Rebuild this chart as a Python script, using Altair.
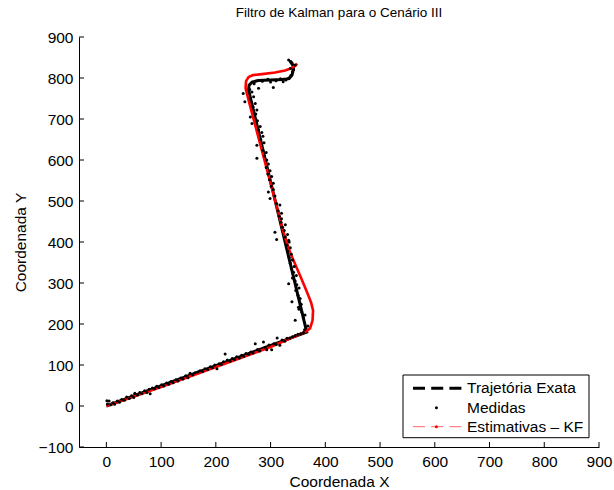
import altair as alt
import pandas as pd

# ---------------- data ----------------
traj_x = [0, 366.1, 259.8, 260.7, 266.2, 277.1, 299.1, 321.0, 333.8, 339.2, 342.0, 339.2, 335.6]
traj_y = [0, 180.2, 770.5, 782.7, 790.0, 793.7, 794.9, 796.1, 798.5, 807.1, 824.2, 836.4, 841.3]

est_x = [0, 100, 200, 300, 364.8, 372.1, 376.7, 377.6, 374.0, 366.6, 357.5, 346.5, 335.6, 328.3, 322.8,
         259.8, 254.3, 255.2, 259.8, 268.0, 284.4, 308.2, 326.5, 339.2, 346.5, 348.4]
est_y = [0, 46, 95, 144, 181.9, 189.3, 208.8, 233.2, 252.7, 277.2, 306.5, 340.7, 374.8, 404.2, 428.6,
         746.0, 775.3, 792.4, 802.2, 807.1, 809.5, 813.2, 818.1, 824.2, 831.5, 835.2]

meas_x = [1, 2, 5, 8, 12, 15, 20, 24, 28, 33, 37, 42, 46, 50, 52, 57, 61, 65, 70, 74, 78, 80,
          84, 88, 92, 96, 101, 105, 110, 114, 118, 122, 127, 131, 136, 140, 145, 149, 153, 158,
          162, 167, 171, 176, 180, 185, 190, 194, 198, 202, 206, 210, 214, 217, 221, 226, 230,
          234, 238, 243, 247, 251, 255, 260, 264, 268, 272, 276, 280, 287, 290, 293, 297, 302,
          306, 310, 312, 317, 321, 326, 330, 335, 340, 345, 350, 355, 360,
          362, 368, 357, 345, 351, 360, 363, 352, 356, 339, 354, 350, 346, 352, 348, 333, 345,
          340, 347, 342, 338, 343, 336, 340, 334, 338, 331, 336, 330, 334, 333, 311, 327, 331,
          308, 325, 322, 327, 319, 320, 316, 320, 314, 317, 311, 299, 308, 296, 305, 301, 305,
          298, 302, 295, 299, 292, 296, 293, 275, 289, 292, 286, 275, 288, 282, 286, 284, 278,
          281, 266, 276, 263, 273, 275, 268, 272, 253, 269, 263, 250, 266, 262,
          278, 305, 270, 285, 295, 300, 310, 318, 323, 328, 333, 337, 340, 342, 336, 345, 338,
          333, 336]
meas_y = [13, 5, 12, 3, 8, 4, 12, 9, 16, 14, 22, 18, 25, 21, 31, 27, 33, 30, 37, 33, 41, 30,
          44, 42, 48, 45, 52, 49, 56, 53, 60, 57, 64, 61, 68, 66, 74, 69, 80, 76,
          81, 83, 86, 84, 91, 89, 96, 93, 100, 91, 103, 101, 108, 127, 112, 109, 116,
          113, 120, 117, 124, 121, 128, 126, 132, 129, 152, 138, 134, 156, 143, 137, 149, 137,
          152, 150, 166, 148, 161, 158, 165, 166, 169, 172, 175, 176, 179,
          186, 195, 229, 209, 241, 215, 222, 236, 248, 254, 262, 270, 282, 288, 296, 298, 305,
          312, 318, 326, 335, 340, 348, 356, 362, 370, 378, 386, 392, 400, 404, 406, 412, 418,
          424, 428, 436, 442, 448, 457, 463, 470, 476, 490, 494, 506, 512, 522, 528, 536, 543,
          552, 560, 566, 574, 582, 590, 600, 604, 610, 618, 624, 636, 642, 650, 658, 667, 674,
          682, 689, 696, 705, 712, 722, 730, 738, 742, 754, 750, 762, 766, 772,
          775, 777, 786, 792, 797, 790, 793, 798, 791, 795, 800, 806, 815, 820, 823, 832, 836,
          844, 840]

x_ticks = [0, 100, 200, 300, 400, 500, 600, 700, 800, 900]
y_ticks = [-100, 0, 100, 200, 300, 400, 500, 600, 700, 800, 900]

legend_labels = ["Trajetória Exata", "Medidas", "Estimativas – KF"]

W, H = 520, 410
FONT = "Liberation Sans"
FS = 15.5

traj_df = pd.DataFrame({"x": traj_x, "y": traj_y, "o": list(range(len(traj_x)))})
est_df = pd.DataFrame({"x": est_x, "y": est_y, "o": list(range(len(est_x)))})
meas_df = pd.DataFrame({"x": meas_x, "y": meas_y})
xt_df = pd.DataFrame({"v": x_ticks})
yt_df = pd.DataFrame({"v": y_ticks})
one = pd.DataFrame({"k": [0]})

xs = alt.Scale(domain=[-50, 900], nice=False, zero=False)
ys = alt.Scale(domain=[-100, 900], nice=False, zero=False)

xaxis = alt.Axis(values=x_ticks, format="d", title="Coordenada X", grid=False, ticks=False,
                 domainColor="black", domainWidth=1, labelFont=FONT, labelFontSize=FS,
                 labelColor="black", labelPadding=7, titleFont=FONT, titleFontSize=FS,
                 titleFontWeight="normal", titleColor="black", titlePadding=5,
                 labelFlush=False, labelOverlap=False)
yaxis = alt.Axis(values=y_ticks, format="d", title="Coordenada Y", grid=False, ticks=False,
                 domainColor="black", domainWidth=1, labelFont=FONT, labelFontSize=FS,
                 labelColor="black", labelPadding=6, titleFont=FONT, titleFontSize=FS,
                 titleFontWeight="normal", titleColor="black", titlePadding=10,
                 labelFlush=False, labelOverlap=False)

traj = alt.Chart(traj_df).mark_line(color="black", strokeWidth=3).encode(
    x=alt.X("x:Q", scale=xs, axis=xaxis),
    y=alt.Y("y:Q", scale=ys, axis=yaxis),
    order="o:Q",
)
est = alt.Chart(est_df).mark_line(color="#ff0000", strokeWidth=2.6).encode(
    x=alt.X("x:Q", scale=xs, axis=xaxis),
    y=alt.Y("y:Q", scale=ys, axis=yaxis),
    order="o:Q",
)
meas = alt.Chart(meas_df).mark_circle(color="black", size=9, opacity=1).encode(
    x=alt.X("x:Q", scale=xs, axis=xaxis),
    y=alt.Y("y:Q", scale=ys, axis=yaxis),
)
xticks = alt.Chart(xt_df).mark_rule(color="black", strokeWidth=1).encode(
    x=alt.X("v:Q", scale=xs, axis=xaxis),
    y=alt.value(H),
    y2=alt.value(H - 5),
)
yticks = alt.Chart(yt_df).mark_rule(color="black", strokeWidth=1).encode(
    y=alt.Y("v:Q", scale=ys, axis=yaxis),
    x=alt.value(0),
    x2=alt.value(5),
)

# ---------------- legend (drawn by hand) ----------------
LX1, LX2, LY1, LY2 = 324, 510, 338, 400.7
r1, r2, r3 = 351.3, 370.7, 389.7
sx1, sx2, sxc = 334, 382.4, 357.4
tx = 388

leg_box = alt.Chart(one).mark_rect(fill="white", stroke="black", strokeWidth=1).encode(
    x=alt.value(LX1), x2=alt.value(LX2), y=alt.value(LY1), y2=alt.value(LY2))
leg_l1 = alt.Chart(one).mark_rule(color="black", strokeWidth=3, strokeDash=[12, 6.2]).encode(
    x=alt.value(sx1), x2=alt.value(sx2), y=alt.value(r1))
leg_p2 = alt.Chart(one).mark_circle(color="black", size=9, opacity=1).encode(
    x=alt.value(sxc), y=alt.value(r2))
leg_l3 = alt.Chart(one).mark_rule(color="#ff6666", strokeWidth=1, strokeDash=[12, 6.2]).encode(
    x=alt.value(sx1), x2=alt.value(sx2), y=alt.value(r3))
leg_p3 = alt.Chart(one).mark_circle(color="#ff0000", size=9, opacity=1).encode(
    x=alt.value(sxc), y=alt.value(r3))
leg_texts = []
for lab, ry in zip(legend_labels, [r1, r2, r3]):
    leg_texts.append(
        alt.Chart(one).mark_text(text=lab, align="left", baseline="middle", font=FONT,
                                 fontSize=FS, color="black").encode(
            x=alt.value(tx), y=alt.value(ry)))

chart = alt.layer(
    traj, est, meas, xticks, yticks, leg_box, leg_l1, leg_p2, leg_l3, leg_p3, *leg_texts
).properties(
    width=W, height=H,
    title=alt.TitleParams("Filtro de Kalman para o Cenário III", font=FONT, fontSize=13.5,
                          fontWeight="normal", color="black", anchor="middle", offset=11),
    autosize=alt.AutoSizeParams(type="none"),
    padding={"left": 79, "top": 37, "right": 15, "bottom": 43},
    background="white",
).configure_view(stroke=None)

chart.save("out.html", embed_options={"renderer": "svg", "actions": False})
